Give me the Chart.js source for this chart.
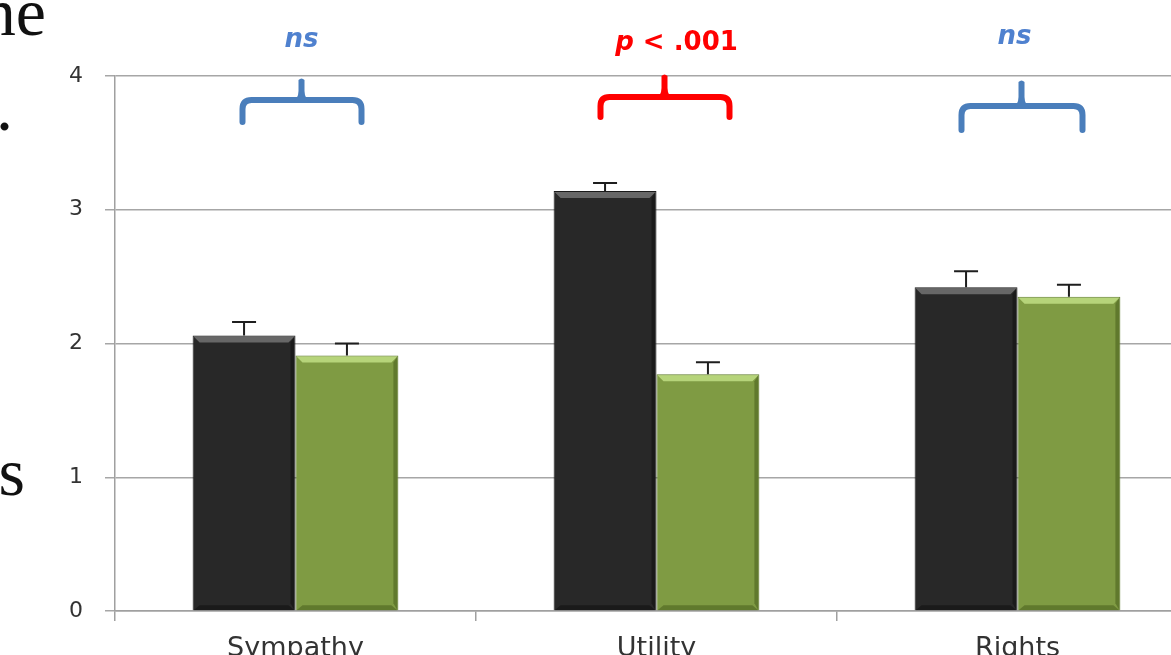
<!DOCTYPE html>
<html><head><meta charset="utf-8">
<script src="https://cdn.jsdelivr.net/npm/chart.js@4"></script>
<style>
html,body{margin:0;padding:0;overflow:hidden;background:#fff;width:1171px;height:655px;}
#wrap{position:absolute;left:0;top:0;width:1200px;height:680px;}
.side{position:absolute;font-family:"Liberation Serif","DejaVu Serif",serif;font-size:68px;line-height:68px;color:#111;white-space:nowrap;}
</style></head><body>
<div id="wrap"><canvas id="c"></canvas></div>
<div class="side" style="right:1125px;top:-22px;">the</div>
<div class="side" style="right:1158px;top:73px;">.</div>
<div class="side" style="right:1146px;top:438px;">s</div>
<script>
const categories = ['Sympathy', 'Utility', 'Rights'];
const seriesDark = [2.06, 3.14, 2.42];
const seriesGreen = [1.91, 1.77, 2.35];
const errDark = [0.10, 0.06, 0.12];
const errGreen = [0.09, 0.09, 0.09];
const yTicks = [0, 1, 2, 3, 4];
const sigLabels = ['ns', 'p < .001', 'ns'];
const sigColors = ['#4f81cf', '#ff0000', '#4f81cf'];
const braceColors = ['#4a7ebb', '#ff0000', '#4a7ebb'];

const errors = [errDark, errGreen];

const bevelPlugin = {
  id: 'bevel',
  afterDatasetsDraw(chart) {
    const ctx = chart.ctx;
    const light = ['rgba(110,110,110,0.9)', 'rgba(185,215,125,0.95)'];
    const dark = ['rgba(0,0,0,0.35)', 'rgba(60,80,20,0.45)'];
    chart.data.datasets.forEach((ds, di) => {
      chart.getDatasetMeta(di).data.forEach(bar => {
        const l = bar.x - bar.width / 2, r = bar.x + bar.width / 2, t = bar.y, b = bar.base;
        const k = 7;
        ctx.save();
        ctx.fillStyle = light[di];
        ctx.beginPath();
        ctx.moveTo(l + 1, t + 1); ctx.lineTo(r - 1, t + 1); ctx.lineTo(r - k, t + k); ctx.lineTo(l + k, t + k); ctx.closePath();
        ctx.fill();
        ctx.fillStyle = dark[di];
        ctx.beginPath();
        ctx.moveTo(r - 1, t + 1); ctx.lineTo(r - 1, b); ctx.lineTo(r - k + 2, b - k); ctx.lineTo(r - k + 2, t + k); ctx.closePath();
        ctx.fill();
        ctx.beginPath();
        ctx.moveTo(l + 1, b); ctx.lineTo(r - 1, b); ctx.lineTo(r - k, b - k + 2); ctx.lineTo(l + k, b - k + 2); ctx.closePath();
        ctx.fill();
        ctx.restore();
      });
    });
  }
};

const errorPlugin = {
  id: 'errbars',
  afterDatasetsDraw(chart) {
    const ctx = chart.ctx, ys = chart.scales.y;
    ctx.save();
    ctx.strokeStyle = '#1e1e1e';
    ctx.lineWidth = 2;
    chart.data.datasets.forEach((ds, di) => {
      chart.getDatasetMeta(di).data.forEach((bar, i) => {
        const top = ys.getPixelForValue(ds.data[i] + errors[di][i]);
        ctx.beginPath();
        ctx.moveTo(bar.x, bar.y);
        ctx.lineTo(bar.x, top);
        ctx.moveTo(bar.x - 12, top);
        ctx.lineTo(bar.x + 12, top);
        ctx.stroke();
      });
    });
    ctx.restore();
  }
};

// brace offsets relative to category centre (px)
const braceGeom = [
  {l: -53, r: 66, c: 6, hy: 24, end: 46, tip: 2, tx: 6, ty: -29},
  {l: -56, r: 73, c: 8, hy: 21, end: 41, tip: -2, tx: 20, ty: -26},
  {l: -56, r: 65, c: 4, hy: 30, end: 54, tip: 4, tx: -3, ty: -32}
];

function drawBrace(ctx, x1, x2, c, hy, endY, tipY, color) {
  ctx.save();
  ctx.strokeStyle = color; ctx.fillStyle = color;
  ctx.lineWidth = 6; ctx.lineCap = 'round'; ctx.lineJoin = 'round';
  const rr = 9;
  ctx.beginPath();
  ctx.moveTo(x1, endY);
  ctx.lineTo(x1, hy + rr);
  ctx.quadraticCurveTo(x1, hy, x1 + rr, hy);
  ctx.lineTo(x2 - rr, hy);
  ctx.quadraticCurveTo(x2, hy, x2, hy + rr);
  ctx.lineTo(x2, endY);
  ctx.stroke();
  ctx.beginPath();
  ctx.moveTo(c - 11, hy + 3);
  ctx.quadraticCurveTo(c - 3, hy, c - 3, hy - 9);
  ctx.lineTo(c - 3, tipY + 2);
  ctx.quadraticCurveTo(c, tipY - 1, c + 3, tipY + 2);
  ctx.lineTo(c + 3, hy - 9);
  ctx.quadraticCurveTo(c + 3, hy, c + 11, hy + 3);
  ctx.closePath();
  ctx.fill();
  ctx.restore();
}

const sigPlugin = {
  id: 'sig',
  afterDraw(chart) {
    const ctx = chart.ctx, xs = chart.scales.x, ys = chart.scales.y;
    const yTop = ys.getPixelForValue(4);
    categories.forEach((cat, i) => {
      const g = braceGeom[i];
      const cx = xs.getPixelForValue(i);
      drawBrace(ctx, cx + g.l, cx + g.r, cx + g.c, yTop + g.hy, yTop + g.end, yTop + g.tip, braceColors[i]);
      ctx.save();
      ctx.fillStyle = sigColors[i];
      ctx.textBaseline = 'alphabetic';
      const label = sigLabels[i];
      const tx = cx + g.tx, ty = yTop + g.ty;
      if (label.startsWith('p ')) {
        const first = 'p', rest = label.slice(1);
        ctx.font = 'italic bold 26px "DejaVu Sans"';
        const w1 = ctx.measureText(first).width;
        ctx.font = 'bold 26px "DejaVu Sans"';
        const w2 = ctx.measureText(rest).width;
        let x0 = tx - (w1 + w2) / 2;
        ctx.textAlign = 'left';
        ctx.font = 'italic bold 26px "DejaVu Sans"';
        ctx.fillText(first, x0, ty);
        ctx.font = 'bold 26px "DejaVu Sans"';
        ctx.fillText(rest, x0 + w1, ty);
      } else {
        ctx.font = 'italic bold 26px "DejaVu Sans"';
        ctx.textAlign = 'center';
        ctx.fillText(label, tx, ty);
      }
      ctx.restore();
    });
  }
};

new Chart(document.getElementById('c'), {
  type: 'bar',
  data: {
    labels: categories,
    datasets: [
      {data: seriesDark, backgroundColor: '#282828', borderColor: '#1a1a1a', borderWidth: 1},
      {data: seriesGreen, backgroundColor: '#7f9b43', borderColor: '#5e7a2c', borderWidth: 1}
    ]
  },
  options: {
    responsive: true,
    maintainAspectRatio: false,
    animation: false,
    events: [],
    layout: {padding: {top: 76, right: 2, left: 0, bottom: 0}},
    datasets: {bar: {barPercentage: 1, categoryPercentage: 0.57}},
    plugins: {legend: {display: false}, tooltip: {enabled: false}},
    scales: {
      x: {
        offset: true,
        grid: {display: true, drawOnChartArea: false, offset: true, tickLength: 10, color: '#a0a0a0', lineWidth: 1.5},
        border: {color: '#a0a0a0', width: 1.5},
        ticks: {font: {family: 'DejaVu Sans', size: 27}, color: '#333', padding: 12},
        afterFit(s) { s.height = 69; }
      },
      y: {
        min: 0, max: 4,
        afterBuildTicks(s) { s.ticks = yTicks.map(v => ({value: v})); },
        grid: {color: '#a6a6a6', lineWidth: 1.5, tickLength: 10},
        border: {color: '#a0a0a0', width: 1.5},
        ticks: {font: {family: 'DejaVu Sans', size: 22}, color: '#333', padding: 22},
        afterFit(s) { s.width = 115; }
      }
    }
  },
  plugins: [bevelPlugin, errorPlugin, sigPlugin]
});
</script>
</body></html>
